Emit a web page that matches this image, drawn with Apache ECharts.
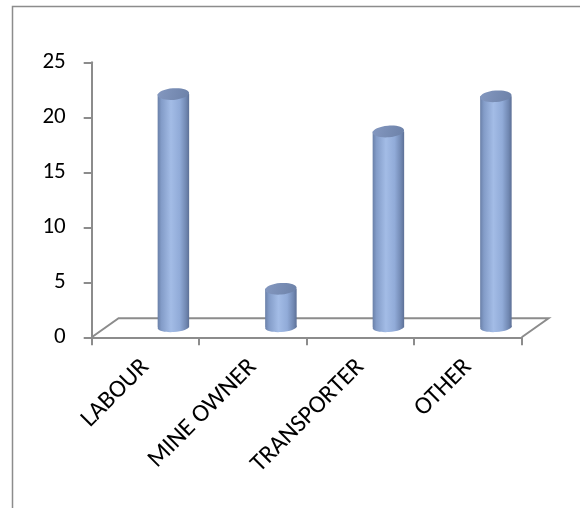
<!DOCTYPE html>
<html>
<head>
<meta charset="utf-8">
<script src="https://cdn.jsdelivr.net/npm/echarts@6/dist/echarts.min.js"></script>
<style>
  html, body { margin: 0; padding: 0; background: #ffffff; }
  #chart { width: 580px; height: 508px; }
</style>
</head>
<body>
<div id="chart"></div>
<script>
const categories = ['LABOUR', 'MINE OWNER', 'TRANSPORTER', 'OTHER'];
const values = [21.2, 3.5, 17.8, 21.0];
const yMin = 0, yMax = 25, yInterval = 5;

const FONT = 'Carlito, Lato, "Liberation Sans", sans-serif';
const AXIS_COLOR = '#8c8c8c';

const chart = echarts.init(document.getElementById('chart'), null, { renderer: 'canvas' });

function bodyGradient() {
  return new echarts.graphic.LinearGradient(0, 0, 1, 0, [
    { offset: 0, color: '#6a80a8' },
    { offset: 0.12, color: '#839cc8' },
    { offset: 0.42, color: '#a3bce6' },
    { offset: 0.7, color: '#91abd8' },
    { offset: 0.9, color: '#7188b2' },
    { offset: 1, color: '#5d7096' }
  ]);
}
function topGradient() {
  return new echarts.graphic.LinearGradient(0, 0, 1, 1, [
    { offset: 0, color: '#8498c0' },
    { offset: 1, color: '#6c81a8' }
  ]);
}

const option = {
  animation: false,
  backgroundColor: '#ffffff',
  graphic: [{
    type: 'rect',
    shape: { x: 12.5, y: 6.5, width: 700, height: 700 },
    style: { fill: 'none', stroke: '#8c8c8c', lineWidth: 1.5 },
    silent: true
  }],
  grid: { left: 91.7, right: 58.3, top: 62.3, bottom: 170.7 },
  xAxis: {
    type: 'category',
    data: categories,
    boundaryGap: true,
    axisLine: { show: true, lineStyle: { color: AXIS_COLOR, width: 2 } },
    axisTick: { show: true, length: 8, lineStyle: { color: AXIS_COLOR, width: 2 } },
    axisLabel: {
      rotate: 45,
      margin: 26,
      fontFamily: FONT,
      fontSize: 25,
      color: '#000000',
      interval: 0
    },
    splitLine: { show: false }
  },
  yAxis: {
    type: 'value',
    min: yMin, max: yMax, interval: yInterval,
    axisLine: { show: true, lineStyle: { color: AXIS_COLOR, width: 2 } },
    axisTick: { show: true, length: 8, lineStyle: { color: AXIS_COLOR, width: 2 } },
    axisLabel: { margin: 26, fontFamily: FONT, fontSize: 23, color: '#000000' },
    splitLine: { show: false }
  },
  series: [
    {
      type: 'custom',
      z: 1,
      silent: true,
      data: [[0, 0]],
      renderItem: function (params, api) {
        const cs = params.coordSys;
        const band = api.size([1, 0])[0];
        const dx = band * 0.25;
        const dy = -19;
        const x0 = cs.x, x1 = cs.x + cs.width, yb = cs.y + cs.height;
        return {
          type: 'polyline',
          shape: { points: [[x0, yb], [x0 + dx, yb + dy], [x1 + dx, yb + dy], [x1, yb]] },
          style: { stroke: AXIS_COLOR, lineWidth: 2, fill: null }
        };
      }
    },
    {
      type: 'custom',
      z: 3,
      data: values.map(function (v, i) { return [i, v]; }),
      renderItem: function (params, api) {
        const idx = api.value(0);
        const val = api.value(1);
        const top = api.coord([idx, val]);
        const base = api.coord([idx, 0]);
        const band = api.size([1, 0])[0];
        const w = band * 0.293;
        const dx = band * 0.26;
        const dy = -10;
        const cx = top[0] + dx;
        const ty = top[1] + dy;
        const by = base[1] + dy;
        const rx = w / 2;
        const ryTop = 5.8, ryBot = 4.8;
        return {
          type: 'group',
          children: [
            {
              type: 'ellipse',
              shape: { cx: cx, cy: by, rx: rx, ry: ryBot },
              rotation: 0.06, originX: cx, originY: by,
              style: { fill: bodyGradient() }
            },
            {
              type: 'rect',
              shape: { x: cx - rx, y: ty, width: w, height: by - ty },
              style: { fill: bodyGradient() }
            },
            {
              type: 'ellipse',
              shape: { cx: cx, cy: ty, rx: rx, ry: ryTop },
              rotation: 0.08, originX: cx, originY: ty,
              style: { fill: topGradient() }
            }
          ]
        };
      }
    }
  ]
};

chart.setOption(option);
</script>
</body>
</html>
